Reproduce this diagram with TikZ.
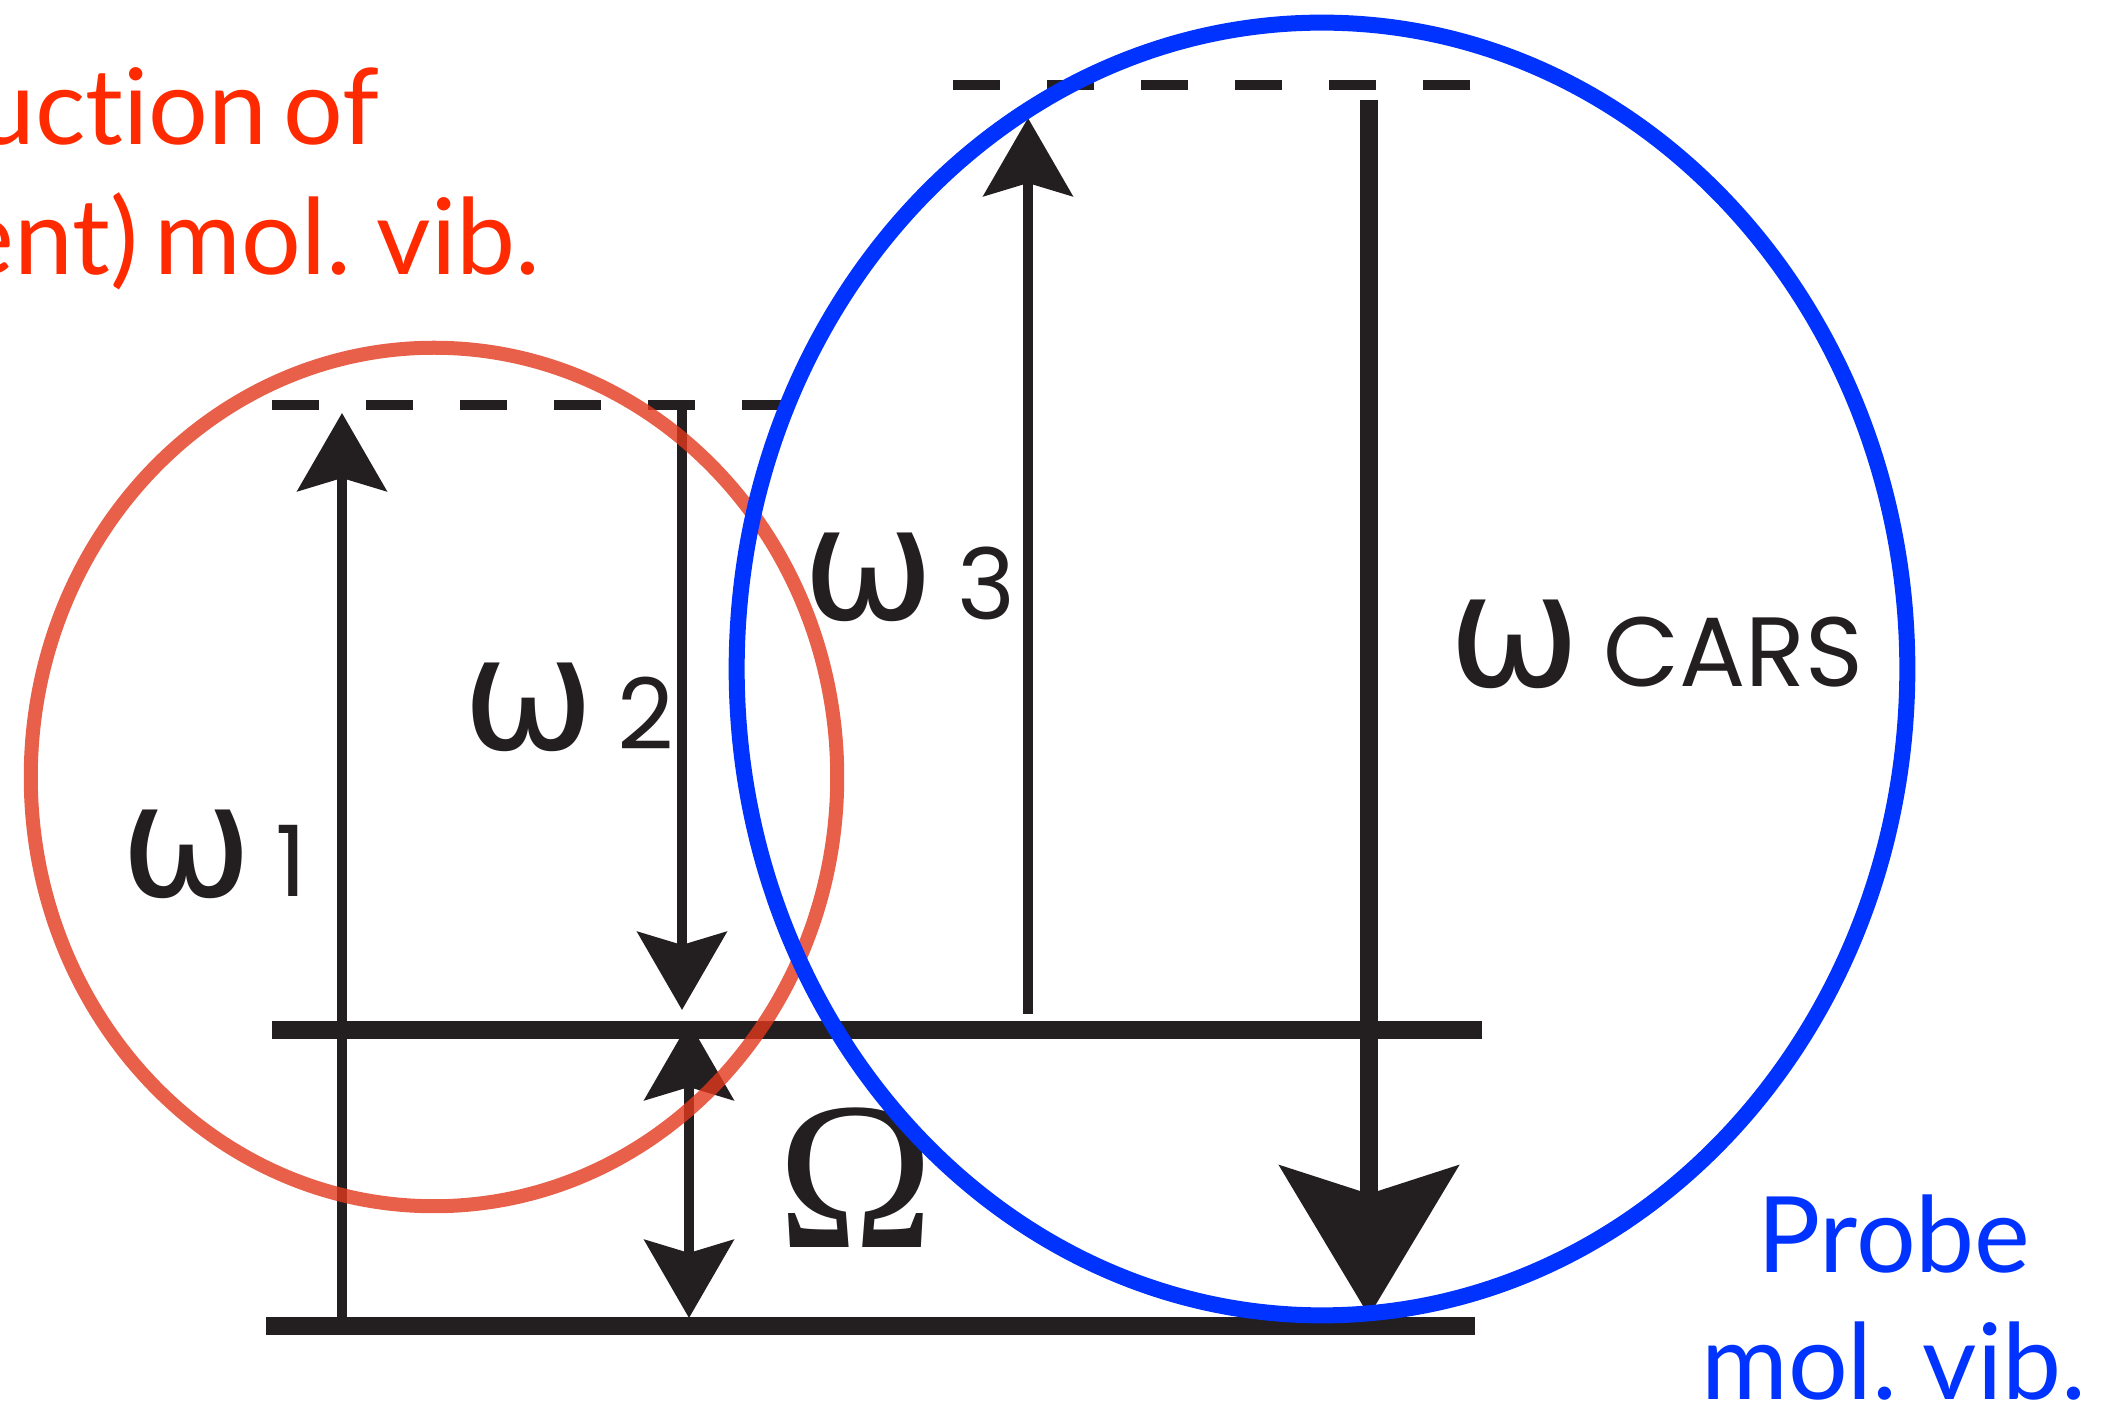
\documentclass[tikz,border=0pt]{standalone}
\usepackage{fontspec}
\usetikzlibrary{arrows.meta}
\newfontfamily\notefont{Lato}[Ligatures=NoCommon, WordSpace=0.6]
\newfontfamily\omegafont{DejaVu Sans}
\newfontfamily\indexfont{Poppins}
\newfontfamily\beatfont{Liberation Serif}
\definecolor{inkblack}{RGB}{35,31,32}
\definecolor{pumpred}{RGB}{255,42,0}
\definecolor{ringred}{RGB}{226,56,29}
\definecolor{probeblue}{RGB}{0,51,255}
\newcommand{\freq}[1]{{\fontsize{45}{45}\omegafont ω}\hspace{0.22cm}{\fontsize{28}{28}\indexfont #1}}

\begin{document}
\begin{tikzpicture}[
    x=0.01cm, y=-0.01cm,
    level/.style={line width=1.8mm, inkblack},
    virtual_level/.style={line width=1mm, inkblack, dash pattern=on 4.7mm off 4.7mm},
    pump_arrow/.style={line width=1mm, inkblack, -{Stealth[length=7.8mm, width=8.9mm, inset=1.3mm]}},
    beat_arrow/.style={line width=1mm, inkblack, {Stealth[length=7.8mm, width=8.9mm, inset=1.3mm]}-{Stealth[length=7.8mm, width=8.9mm, inset=1.3mm]}},
    cars_arrow/.style={line width=1.8mm, inkblack, -{Stealth[length=15mm, width=17.8mm, inset=2.8mm]}},
    freq_label/.style={anchor=base west, inner sep=0pt, inkblack},
    note/.style={inner sep=0pt, font=\fontsize{30}{36}\notefont},
    ring/.style={line width=1.4mm}
]
\useasboundingbox (0,0) rectangle (2105,1410);

% energy levels
\coordinate (g1) at (266,1326);
\coordinate (g2) at (1475,1326);
\coordinate (v1) at (272,1030);
\coordinate (v2) at (1482,1030);
\coordinate (r1) at (272,405);
\coordinate (r2) at (785,405);
\coordinate (s1) at (953,85);
\coordinate (s2) at (1474,85);

\draw[level] (g1) -- (g2);
\draw[level] (v1) -- (v2);
\draw[virtual_level] (r1) -- (r2);
\draw[virtual_level] (s1) -- (s2);

% arrow ends
\coordinate (w1_start) at (342,1326);
\coordinate (w1_end) at (342,413);
\coordinate (w2_start) at (682,410);
\coordinate (w2_end) at (682,1010);
\coordinate (om_top) at (689,1022);
\coordinate (om_bot) at (689,1318);
\coordinate (w3_start) at (1028,1014);
\coordinate (w3_end) at (1028,118);
\coordinate (wc_start) at (1369,100);
\coordinate (wc_end) at (1369,1316);

\draw[pump_arrow] (w1_start) -- (w1_end);
\draw[pump_arrow] (w2_start) -- (w2_end);
\draw[beat_arrow] (om_top) -- (om_bot);
\draw[pump_arrow] (w3_start) -- (w3_end);
\draw[cars_arrow] (wc_start) -- (wc_end);

% labels
\node[freq_label] (w1) at (120,897) {\freq{1}};
\node[freq_label] (w2) at (462,750) {\freq{2}};
\node[freq_label] (w3) at (802,620) {\freq{3}};
\node[freq_label] (wc) at (1448,687) {\freq{CARS}};
\node[inner sep=0pt, inkblack, font=\fontsize{60}{64}\beatfont] (om) at (856,1178) {Ω};

% circles
\draw[ring, ringred, opacity=0.8] (434,777) ellipse [x radius=4.03cm, y radius=4.29cm];
\draw[ring, probeblue, line width=1.6mm] (1322,669) ellipse [x radius=5.85cm, y radius=6.46cm];

% notes
\node[note, pumpred, anchor=base east] (n1) at (380,145) {uction of};
\node[note, pumpred, anchor=base east] (n2) at (541,275) {ent) mol. vib.};
\node[note, probeblue, anchor=base] (p1) at (1894,1273) {Probe};
\node[note, probeblue, anchor=base] (p2) at (1894,1400) {mol. vib.};

\end{tikzpicture}
\end{document}
